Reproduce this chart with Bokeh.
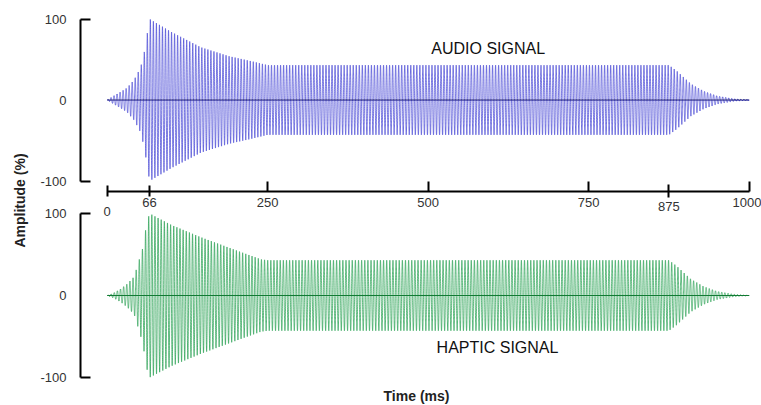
import numpy as np
from bokeh.plotting import figure
from bokeh.models import Range1d, LinearAxis, FixedTicker, ColumnDataSource
from bokeh.core.properties import value
from bokeh.embed import file_html
from bokeh.resources import INLINE

# ---------------- data ----------------
audio_env_t = [0, 10, 21, 31, 42, 52, 58, 63, 66, 100, 146, 190, 224, 250, 875, 887, 909, 929, 950, 976, 1000]
audio_env_a = [0, 5, 10, 15, 25, 40, 60, 85, 100, 84, 65, 54, 48, 43, 43, 36, 20, 11, 5, 1.5, 0]
haptic_env_t = [0, 10, 21, 31, 42, 55, 62, 66, 100, 146, 208, 240, 250, 875, 887, 909, 929, 950, 976, 1000]
haptic_env_a = [0, 3, 8, 14, 23, 57, 90, 100, 86, 71, 53, 44, 43, 43, 36, 20, 11, 5, 1.5, 0]
audio_carrier_hz = 212
haptic_carrier_hz = 205
time_ticks = [0, 66, 250, 500, 750, 875, 1000]
amp_ticks = [-100, 0, 100]
panel_titles = ["AUDIO SIGNAL", "HAPTIC SIGNAL"]
x_title = "Time (ms)"
y_title = "Amplitude (%)"

# ---------------- layout constants (screen px) ----------------
W, H = 761, 405
X0_PX, XSCALE = 106.7, 0.642             # px of t=0, px per ms
TOP100_PX, TOP_SCALE = 18.5, 0.81        # px of +100 (top panel), px per unit
BOT100_PX, BOT_SCALE = 213.0, 0.82       # px of +100 (bottom panel)
TAXIS_PX = 191.0                         # px of the time axis line
YAXIS_PX = 80.0                          # px of the amplitude axis lines

x_start = -X0_PX / XSCALE
x_end = (W - X0_PX) / XSCALE
top_hi = 100 + TOP100_PX / TOP_SCALE
top_lo = top_hi - H / TOP_SCALE
bot_hi = 100 + BOT100_PX / BOT_SCALE
bot_lo = bot_hi - H / BOT_SCALE
def top_val(px):
    return top_hi - px / TOP_SCALE
def bot_val(px):
    return bot_hi - px / BOT_SCALE
def t_val(px):
    return (px - X0_PX) / XSCALE

p = figure(width=W, height=H, output_backend="svg", toolbar_location=None,
           x_range=Range1d(x_start, x_end), y_range=Range1d(top_lo, top_hi),
           x_axis_location=None, y_axis_location=None,
           min_border_left=0, min_border_right=0, min_border_top=0, min_border_bottom=0)
p.extra_y_ranges = {"bot": Range1d(bot_lo, bot_hi)}
p.outline_line_color = None
p.xgrid.visible = False
p.ygrid.visible = False
p.background_fill_color = "white"
p.border_fill_color = "white"

# ---------------- waveforms ----------------
t = np.arange(0, 1000.0001, 0.04)
audio = np.interp(t, audio_env_t, audio_env_a) * np.sin(2 * np.pi * audio_carrier_hz * t / 1000.0)
haptic = np.interp(t, haptic_env_t, haptic_env_a) * np.sin(2 * np.pi * haptic_carrier_hz * t / 1000.0)
src = ColumnDataSource(dict(t=t, audio=audio, haptic=haptic, zero=np.zeros_like(t)))

p.line("t", "audio", source=src, line_color="#4646d6", line_width=1, line_alpha=0.72)
p.line("t", "zero", source=src, line_color="#30306a", line_width=1)
p.line("t", "haptic", source=src, line_color="#25a050", line_width=1, line_alpha=0.72, y_range_name="bot")
p.line("t", "zero", source=src, line_color="#117a33", line_width=1.2, y_range_name="bot")

FONT = "Liberation Sans"

# ---------------- texts ----------------
p.text(x=[t_val(487.7)], y=[top_val(48)], text=[panel_titles[0]],
       text_font=value(FONT), text_font_size="16px", text_color="#111111",
       text_align="center", text_baseline="middle")
p.text(x=[t_val(497)], y=[bot_val(347)], text=[panel_titles[1]],
       text_font=value(FONT), text_font_size="16px", text_color="#111111",
       text_align="center", text_baseline="middle", y_range_name="bot")
p.text(x=[t_val(416)], y=[bot_val(395)], text=[x_title],
       text_font=value(FONT), text_font_size="14px", text_font_style="bold",
       text_color="#222222", text_align="center", text_baseline="middle", y_range_name="bot")
p.text(x=[t_val(19)], y=[top_val(200)], text=[y_title], angle=np.pi / 2,
       text_font=value(FONT), text_font_size="14px", text_font_style="bold",
       text_color="#222222", text_align="center", text_baseline="middle")

# ---------------- axes ----------------
def style(ax, size="13px"):
    ax.major_label_text_font = FONT
    ax.major_label_text_font_size = size
    ax.major_label_text_color = "#333333"
    ax.minor_tick_line_color = None
    ax.axis_line_width = 2
    ax.major_tick_line_width = 2
    ax.axis_line_color = "black"
    ax.major_tick_line_color = "black"

y_loc = t_val(YAXIS_PX)
for rname in ["default", "bot"]:
    ends = [v for v in amp_ticks if v != 0]
    mid = [v for v in amp_ticks if v == 0]
    a1 = LinearAxis(y_range_name=rname, ticker=FixedTicker(ticks=ends), fixed_location=y_loc,
                    bounds=(min(amp_ticks), max(amp_ticks)),
                    major_label_overrides={v: str(v) for v in ends})
    style(a1)
    a1.major_tick_in = 10
    a1.major_tick_out = 0
    a1.major_label_standoff = 14
    p.add_layout(a1, "left")
    a2 = LinearAxis(y_range_name=rname, ticker=FixedTicker(ticks=mid), fixed_location=y_loc,
                    major_label_overrides={v: str(v) for v in mid})
    style(a2)
    a2.axis_line_color = None
    a2.major_tick_line_color = None
    a2.major_tick_in = 0
    a2.major_tick_out = 0
    a2.major_label_standoff = 14
    p.add_layout(a2, "left")

# time axis between the panels: groups of ticks with their own tick style / label offset
t_loc = top_val(TAXIS_PX)
groups = [
    ([v for v in time_ticks if v in (250, 500, 750, 1000)], 10, 0, 6, True),
    ([v for v in time_ticks if v == 66], 6, 5, 1, False),
    ([v for v in time_ticks if v == 875], 7, 6, 4, False),
    ([v for v in time_ticks if v == 0], 6, 5, 10, False),
]
for ticks, tin, tout, stand, line in groups:
    ax = LinearAxis(ticker=FixedTicker(ticks=ticks), fixed_location=t_loc,
                    bounds=(min(time_ticks), max(time_ticks)))
    style(ax)
    if not line:
        ax.axis_line_color = None
    ax.major_tick_in = tin
    ax.major_tick_out = tout
    ax.major_label_standoff = stand
    p.add_layout(ax, "below")

open("out.html", "w").write(file_html(p, INLINE))
